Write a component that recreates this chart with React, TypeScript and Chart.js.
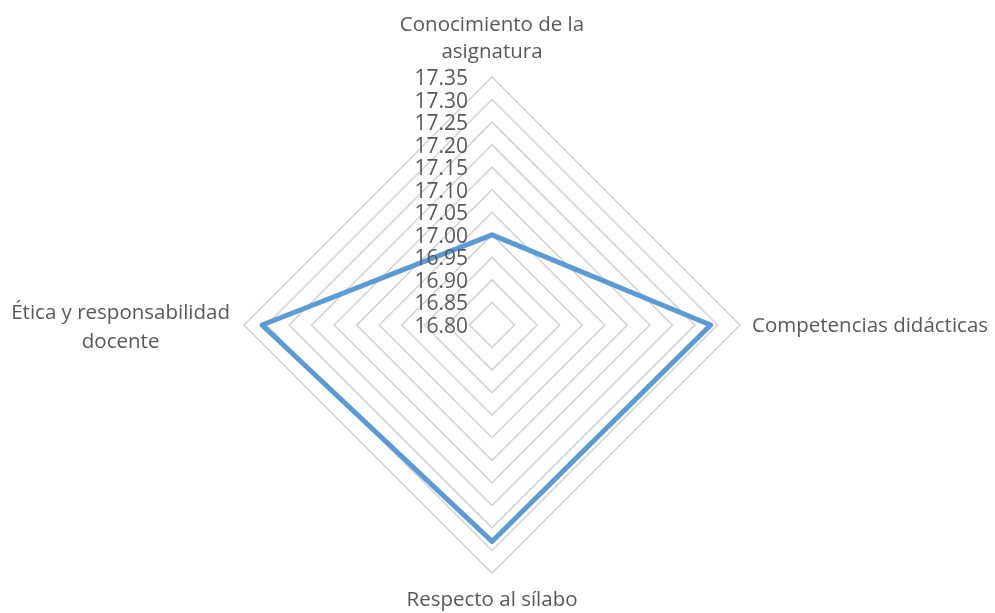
import React, { useEffect, useRef } from "react";
import { Chart, registerables } from "chart.js";

Chart.register(...registerables);

const categories: string[][] = [
  ["Conocimiento de la", "asignatura"],
  ["Competencias didácticas"],
  ["Respecto al sílabo"],
  ["Ética y responsabilidad", "docente"],
];
const seriesValues: number[] = [17.0, 17.285, 17.28, 17.31];
const scaleMin = 16.8;
const scaleMax = 17.35;
const scaleStep = 0.05;

const FONT = '"Open Sans", sans-serif';
const TEXT_COLOR = "#595959";

const labelsPlugin = {
  id: "customLabels",
  afterDraw(chart: any) {
    const r = chart.scales.r;
    const ctx = chart.ctx;
    ctx.save();
    ctx.fillStyle = TEXT_COLOR;
    ctx.font = `21px ${FONT}`;
    // tick labels
    ctx.textAlign = "right";
    ctx.textBaseline = "middle";
    r.ticks.forEach((t: any) => {
      const d = r.getDistanceFromCenterForValue(t.value);
      ctx.fillText(Number(t.value).toFixed(2), r.xCenter - 24, r.yCenter - d + 2);
    });
    // point labels
    ctx.font = `20.5px ${FONT}`;
    ctx.textBaseline = "alphabetic";
    const da = r.drawingArea;
    categories.forEach((lines, i) => {
      const p = r.getPointPosition(i, da);
      if (i === 0) {
        ctx.textAlign = "center";
        const n = lines.length;
        lines.forEach((ln, k) => {
          ctx.fillText(ln, p.x, p.y - 19 - (n - 1 - k) * 27);
        });
      } else if (i === 1) {
        ctx.textAlign = "left";
        lines.forEach((ln, k) => ctx.fillText(ln, p.x + 12, p.y + 7 + k * 28));
      } else if (i === 2) {
        ctx.textAlign = "center";
        lines.forEach((ln, k) => ctx.fillText(ln, p.x, p.y + 33 + k * 28));
      } else {
        ctx.textAlign = "center";
        const w = Math.max(...lines.map((ln) => ctx.measureText(ln).width));
        const cx = p.x - 14 - w / 2;
        lines.forEach((ln, k) => ctx.fillText(ln, cx, p.y - 6 + k * 29));
      }
    });
    ctx.restore();
  },
};

export default function App() {
  const ref = useRef<HTMLCanvasElement | null>(null);
  useEffect(() => {
    if (!ref.current) return;
    const chart = new Chart(ref.current, {
      type: "radar",
      data: {
        labels: categories,
        datasets: [
          {
            data: seriesValues,
            borderColor: "#5b9bd5",
            borderWidth: 5,
            backgroundColor: "transparent",
            fill: false,
            pointRadius: 0,
            pointHoverRadius: 0,
            borderJoinStyle: "round",
            tension: 0,
          },
        ],
      },
      options: {
        animation: false,
        responsive: true,
        maintainAspectRatio: false,
        layout: { padding: { top: 77, bottom: 40, left: 244, right: 255 } },
        plugins: { legend: { display: false }, tooltip: { enabled: false } },
        scales: {
          r: {
            min: scaleMin,
            max: scaleMax,
            ticks: { stepSize: scaleStep, display: false },
            pointLabels: { display: false },
            angleLines: { display: false },
            grid: { color: "#d4d4d4", lineWidth: 1.6, circular: false },
          },
        },
      },
      plugins: [labelsPlugin],
    });
    return () => chart.destroy();
  }, []);
  return (
    <div style={{ position: "absolute", left: 0, top: 0, width: 995, height: 613, background: "#fff" }}>
      <canvas ref={ref} />
    </div>
  );
}
